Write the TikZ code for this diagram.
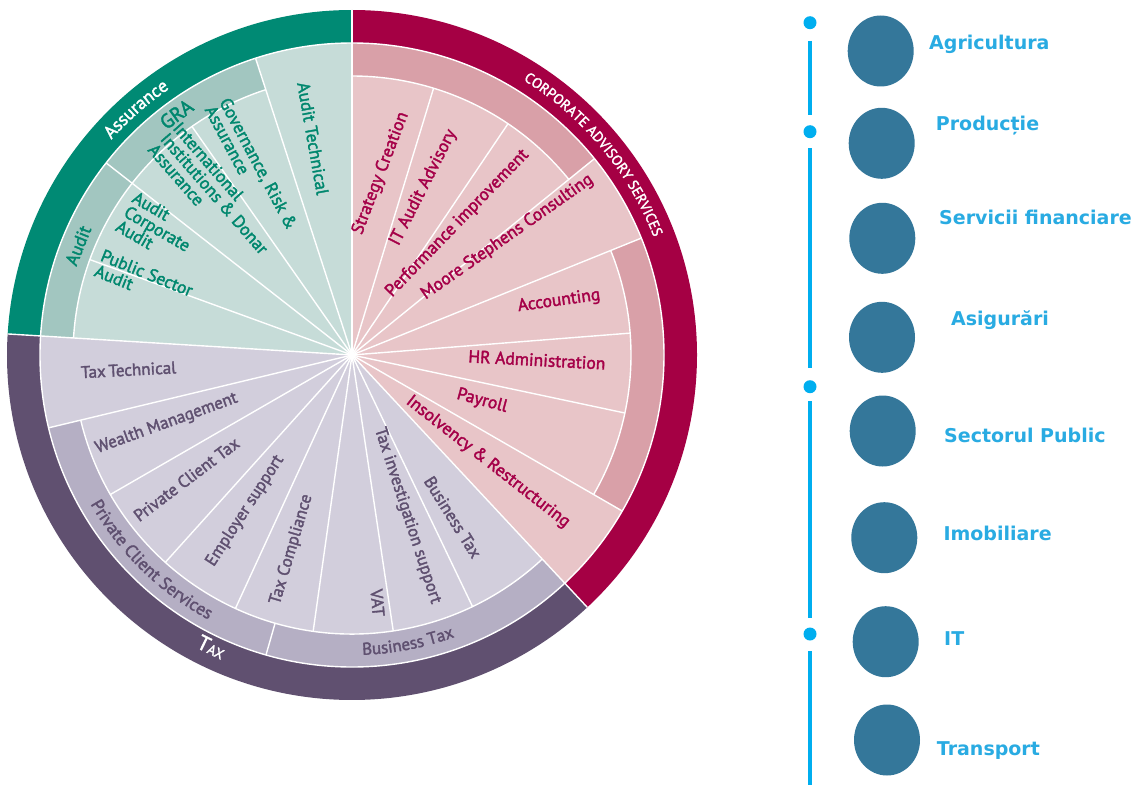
\documentclass[tikz,border=0pt]{standalone}
\usepackage{fontspec}
\setmainfont{PT Sans}[FakeBold=2]
\newfontfamily\sidefont{DejaVu Sans}
\usetikzlibrary{positioning, shapes.geometric, decorations.text}

\definecolor{assurdark}{RGB}{0,138,116}
\definecolor{assurmid}{RGB}{162,198,192}
\definecolor{assurlight}{RGB}{198,220,216}
\definecolor{assurtext}{RGB}{0,135,110}
\definecolor{casdark}{RGB}{165,0,68}
\definecolor{casmid}{RGB}{217,160,168}
\definecolor{caslight}{RGB}{232,197,200}
\definecolor{castext}{RGB}{165,0,72}
\definecolor{taxdark}{RGB}{96,80,112}
\definecolor{taxmid}{RGB}{181,175,196}
\definecolor{taxlight}{RGB}{210,206,220}
\definecolor{taxtext}{RGB}{95,80,112}
\definecolor{sectorblue}{RGB}{52,119,154}
\definecolor{sectortext}{RGB}{41,171,226}
\definecolor{timeline}{RGB}{0,174,239}

% pie slice: start, end, radius, colour
\newcommand{\piepart}[4]{\fill[#4] (0,0) -- (#1:#3pt) arc[start angle=#1, end angle=#2, radius=#3pt] -- cycle;}
% ring piece: start, end, inner, outer, colour
\newcommand{\ringpart}[5]{\fill[#5] (#1:#3pt) arc[start angle=#1, end angle=#2, radius=#3pt] -- (#2:#4pt) arc[start angle=#2, end angle=#1, radius=#4pt] -- cycle;}

\tikzset{
  wheelsep/.style={white, line width=1.4pt},
  assurlbl/.style={text=assurtext, font=\fontsize{17.5}{16.5}\selectfont, align=left, inner sep=0pt},
  caslbl/.style={text=castext, font=\fontsize{17.5}{17}\selectfont, inner sep=0pt},
  taxlbl/.style={text=taxtext, font=\fontsize{17}{17}\selectfont, inner sep=0pt},
  sector/.style={ellipse, fill=sectorblue, minimum width=66pt, minimum height=71pt, inner sep=0pt},
  sectorname/.style={text=sectortext, font=\sidefont\bfseries\fontsize{19}{19}\selectfont, anchor=base west, inner sep=0pt},
  tdot/.style={circle, fill=timeline, minimum size=13pt, inner sep=0pt},
  tline/.style={timeline, line width=4pt}
}

\begin{document}
\begin{tikzpicture}[x=1pt,y=1pt]
\useasboundingbox (-352,-430) rectangle (785,355);
\fill[white] (-352,-430) rectangle (785,355);

% outer bands
\piepart{90}{176.5}{345}{assurdark}
\piepart{-47}{90}{345}{casdark}
\piepart{176.5}{313}{345}{taxdark}
% inner parts
\piepart{90}{176.5}{312}{assurlight}
\piepart{-47}{90}{312}{caslight}
\piepart{176.5}{313}{312}{taxlight}
% middle rings
\ringpart{108}{176.5}{279}{312}{assurmid}
\ringpart{39}{90}{279}{312}{casmid}
\ringpart{-30}{22}{279}{312}{casmid}
\ringpart{193.5}{313}{279}{312}{taxmid}

% white separators
\draw[wheelsep] (0,0) circle[radius=312pt];
\draw[wheelsep] (108:279pt) arc[start angle=108, end angle=176.5, radius=279pt];
\draw[wheelsep] (193.5:279pt) arc[start angle=193.5, end angle=313, radius=279pt];
\draw[wheelsep] (-30:279pt) arc[start angle=-30, end angle=22, radius=279pt];
\draw[wheelsep] (39:279pt) arc[start angle=39, end angle=90, radius=279pt];
\draw[wheelsep] (0,0) -- (90:345pt);
\draw[wheelsep] (0,0) -- (176.5:345pt);
\draw[wheelsep] (0,0) -- (313:345pt);
\draw[wheelsep] (0,0) -- (108:312pt);
\draw[wheelsep] (0,0) -- (142:312pt);
\draw[wheelsep] (0,0) -- (39:312pt);
\draw[wheelsep] (0,0) -- (22:312pt);
\draw[wheelsep] (0,0) -- (-30:312pt);
\draw[wheelsep] (0,0) -- (193.5:312pt);
\draw[wheelsep] (0,0) -- (125:279pt);
\draw[wheelsep] (0,0) -- (160:279pt);
\draw[wheelsep] (0,0) -- (73:279pt);
\draw[wheelsep] (0,0) -- (56:279pt);
\draw[wheelsep] (0,0) -- (4.5:279pt);
\draw[wheelsep] (0,0) -- (-12:279pt);
\draw[wheelsep] (0,0) -- (210:279pt);
\draw[wheelsep] (0,0) -- (228:279pt);
\draw[wheelsep] (0,0) -- (245.3:279pt);
\draw[wheelsep] (0,0) -- (262:279pt);
\draw[wheelsep] (0,0) -- (278.5:279pt);
\draw[wheelsep] (0,0) -- (295.6:279pt);
\draw[wheelsep] (254:279pt) -- (254:312pt);

% band titles
\path[decorate, decoration={text along path, text align=center,
  text={|\fontsize{18}{18}\selectfont\color{white}|Assurance}}]
  (151.3:323pt) arc[start angle=151.3, end angle=111.3, radius=323pt];
\path[decorate, decoration={text along path, text align=center,
  text={|\fontsize{14.3}{14}\selectfont\color{white}|CORPORATE ADVISORY SERVICES}}]
  (69.7:324pt) arc[start angle=69.7, end angle=9.7, radius=324pt];
\path[decorate, decoration={text along path, text align=center,
  text={|\fontsize{17.5}{17}\selectfont\color{taxtext}|Private Client Services}}]
  (195.6:301pt) arc[start angle=195.6, end angle=255.6, radius=301pt];
\path[decorate, decoration={text along path, text align=center,
  text={|\fontsize{17}{17}\selectfont\color{taxtext}|Business Tax}}]
  (-104:300pt) arc[start angle=-104, end angle=-54, radius=300pt];
\node[text=white, inner sep=0pt, rotate=-26] (taxband) at (244.3:324pt)
  {\fontsize{21}{21}\selectfont T\fontsize{14}{14}\selectfont AX};

% assurance
\node[assurlbl, rotate=36, font=\fontsize{20}{20}\selectfont] (gra) at (126.1:298pt) {GRA};
\node[assurlbl, rotate=68, font=\fontsize{18}{18}\selectfont] (auditring) at (158.2:295pt) {Audit};
\node[assurlbl, rotate=-80] (audittech) at (100.2:220pt) {Audit Technical};
\node[assurlbl, rotate=-62] (governance) at (118.2:213pt) {Governance, Risk \&\\Assurance};
\node[assurlbl, rotate=-49] (intinst) at (130.4:212pt) {International\\Institutions \& Donar\\Assurance};
\node[assurlbl, rotate=-30] (corpaudit) at (147:232pt) {Audit\\Corporate\\Audit};
\node[assurlbl, rotate=-22] (publicaudit) at (160.3:221pt) {Public Sector\\Audit};

% corporate advisory services
\node[caslbl, rotate=69] (strategy) at (81:184pt) {Strategy Creation};
\node[caslbl, rotate=63] (itaudit) at (66.9:182pt) {IT Audit Advisory};
\node[caslbl, rotate=46] (performance) at (51.3:168.6pt) {Performance improvement};
\node[caslbl, rotate=35] (moore) at (37.2:195pt) {Moore Stephens Consulting};
\node[caslbl, rotate=8] (accounting) at (14.6:214pt) {Accounting};
\node[caslbl, rotate=-3] (hradmin) at (-1.5:185pt) {HR Administration};
\node[caslbl, rotate=-15] (payroll) at (-19.5:138pt) {Payroll};
\node[caslbl, rotate=-38] (insolvency) at (-38.2:173pt) {Insolvency \& Restructuring};

% tax
\node[taxlbl, rotate=3] (taxtech) at (183.8:224pt) {Tax\,Technical};
\node[taxlbl, rotate=20] (wealth) at (200.3:197.7pt) {Wealth Management};
\node[taxlbl, rotate=37] (privtax) at (216.9:207pt) {Private Client Tax};
\node[taxlbl, rotate=57] (employer) at (235.6:189pt) {Employer support};
\node[taxlbl, rotate=73.5] (compliance) at (252.7:203.7pt) {Tax Compliance};
\node[taxlbl, rotate=-85] (vat) at (-84.1:249pt) {VAT};
\node[taxlbl, rotate=-72] (investigation) at (-71:170pt) {Tax investigation support};
\node[taxlbl, rotate=-58] (businesstax) at (-58.1:191pt) {Business Tax};

% timeline
\node[tdot] (d1) at (458,332.3) {};
\node[tdot] (d2) at (458,223.3) {};
\node[tdot] (d3) at (458,-31.7) {};
\node[tdot] (d4) at (458,-279) {};
\coordinate (lend) at (458,-430);
\draw[tline, shorten <=18.3pt, shorten >=16.7pt] (d1.center) -- (d2.center);
\draw[tline, shorten <=16.3pt, shorten >=18.7pt] (d2.center) -- (d3.center);
\draw[tline, shorten <=14.3pt, shorten >=16pt] (d3.center) -- (d4.center);
\draw[tline, shorten <=17pt] (d4.center) -- (lend);

% sectors
\node[sector] (agri) at (528.7,304) {};
\node[sector] (prod) at (529.7,211.7) {};
\node[sector] (fin) at (530.3,116.7) {};
\node[sector] (asig) at (530,17.7) {};
\node[sector] (public) at (530.7,-76) {};
\node[sector] (imob) at (532.3,-182.7) {};
\node[sector] (it) at (533.7,-286.7) {};
\node[sector] (transp) at (535,-385) {};
\node[sectorname] (agrilbl) at (577,305) {Agricultura};
\node[sectorname] (prodlbl) at (583.7,224.3) {Producție};
\node[sectorname] (finlbl) at (587,131) {Servicii financiare};
\node[sectorname] (asiglbl) at (599,30) {Asigurări};
\node[sectorname] (publiclbl) at (592,-87.3) {Sectorul Public};
\node[sectorname] (imoblbl) at (591.3,-185) {Imobiliare};
\node[sectorname] (itlbl) at (592,-290) {IT};
\node[sectorname] (transplbl) at (584.7,-400) {Transport};
\end{tikzpicture}
\end{document}
